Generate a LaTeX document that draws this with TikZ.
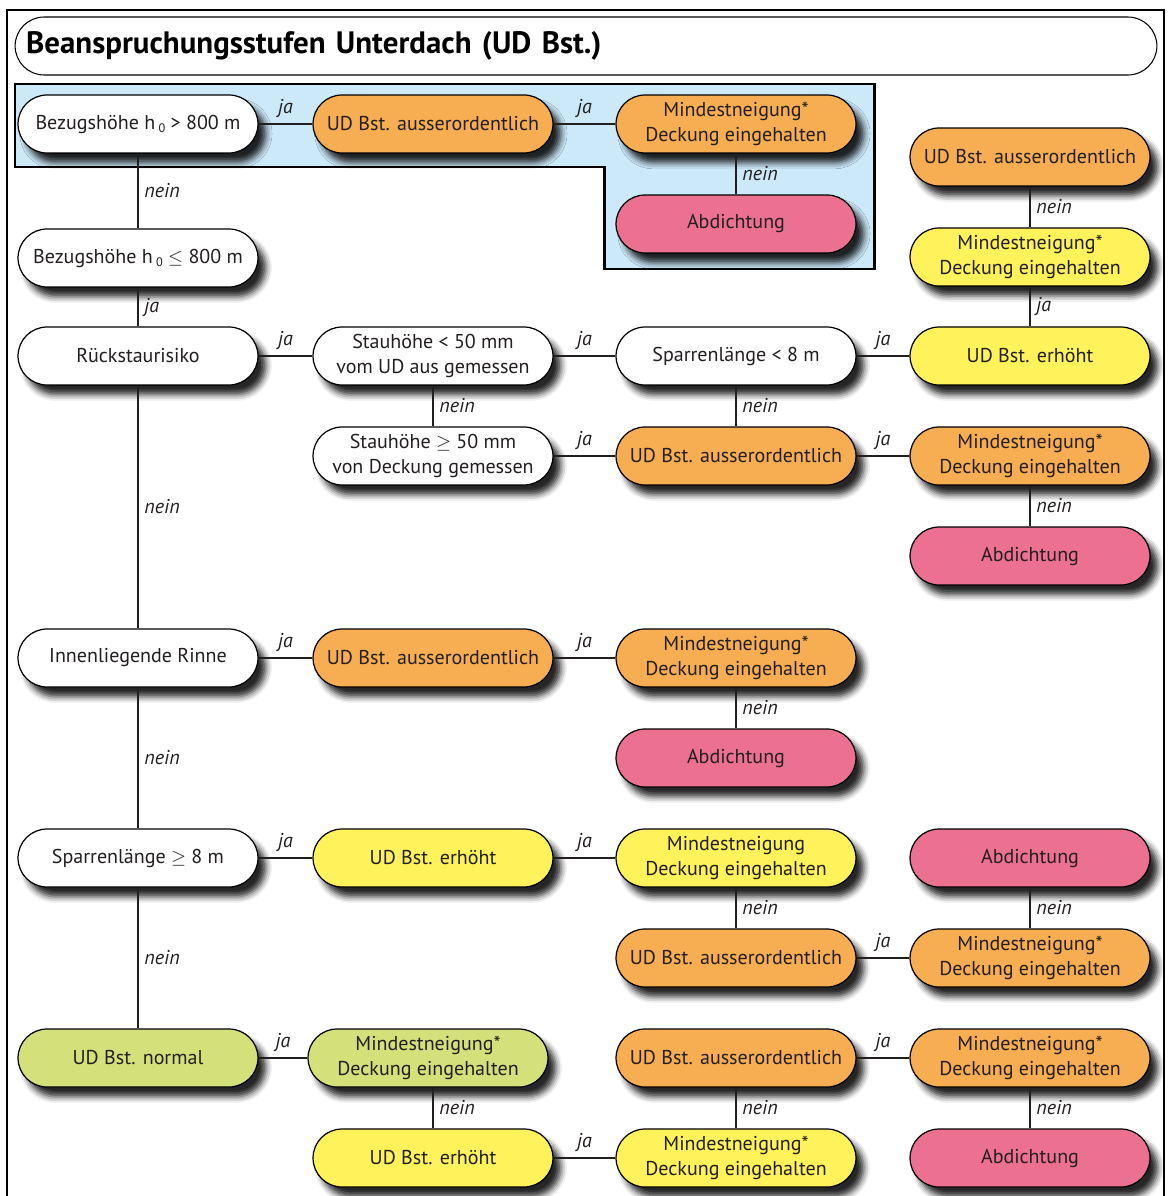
\documentclass[tikz,border=0pt]{standalone}
\usepackage{fontspec}
\setmainfont{PT Sans}
\usetikzlibrary{shadows.blur}

\definecolor{udorange}{RGB}{247,173,82}
\definecolor{udyellow}{RGB}{255,242,90}
\definecolor{udpink}{RGB}{236,112,144}
\definecolor{udgreen}{RGB}{212,224,122}
\definecolor{udblue}{RGB}{204,233,250}
\definecolor{udtext}{RGB}{35,31,32}

\newcommand{\hnull}{h\,\raisebox{-0.35ex}{\scriptsize 0}}

\begin{document}
\begin{tikzpicture}
  [x=0.02cm,y=-0.02cm,font=\fontsize{11.4}{14.6}\selectfont,text=udtext]

  \tikzstyle{stufe} = [draw, line width=0.7pt, rounded corners=0.58cm,
                       minimum width=4.8cm, minimum height=1.16cm,
                       inner sep=1pt, align=center,
                       blur shadow={shadow xshift=4.5pt, shadow yshift=-5.5pt,
                                    shadow blur radius=3.5pt, shadow opacity=85}]
  \tikzstyle{frage}  = [stufe, fill=white]
  \tikzstyle{ausser} = [stufe, fill=udorange]
  \tikzstyle{erhoht} = [stufe, fill=udyellow]
  \tikzstyle{dicht}  = [stufe, fill=udpink]
  \tikzstyle{normal} = [stufe, fill=udgreen]
  \tikzstyle{ja}     = [above, font=\fontsize{11.4}{13}\selectfont\itshape]
  \tikzstyle{nein}   = [right, font=\fontsize{11.4}{13}\selectfont\itshape]

  \useasboundingbox (0,0) rectangle (1167,1196);

  % frame
  \draw[line width=1.7pt] (7,1196) -- (7,10) -- (1165,10);
  \draw[line width=0.6pt] (1164,10) -- (1164,1196);

  \node[draw, line width=0.6pt, rounded corners=0.58cm, minimum width=22.84cm,
        minimum height=1.16cm, text width=22.4cm, align=left,
        font=\fontsize{17.6}{20}\selectfont\bfseries, text=black]
        (titel) at (586,46) {Beanspruchungsstufen Unterdach (UD Bst.)};

  % ueber 800 m
  \draw[line width=1.7pt, fill=udblue]
        (15,84) -- (874,84) -- (874,269) -- (604,269) -- (604,167) -- (15,167) -- cycle;

  \node[frage]  (bza) at (138,124)  {Bezugshöhe \hnull{} > 800 m};
  \node[ausser] (ua1) at (433,124)  {UD Bst. ausserordentlich};
  \node[ausser] (mn1) at (736,124)  {Mindestneigung*\\Deckung eingehalten};
  \node[dicht]  (ab1) at (736,224)  {Abdichtung};

  \node[frage]  (bzb) at (138,258)  {Bezugshöhe \hnull{} $\leq$ 800 m};
  \node[ausser] (ua0) at (1030,157) {UD Bst. ausserordentlich};
  \node[erhoht] (mn0) at (1030,257) {Mindestneigung*\\Deckung eingehalten};

  \node[frage]  (rs)  at (138,356)  {Rückstaurisiko};
  \node[frage]  (sk)  at (433,356)  {Stauhöhe < 50 mm\\vom UD aus gemessen};
  \node[frage]  (sk8) at (736,356)  {Sparrenlänge < 8 m};
  \node[erhoht] (ue1) at (1030,356) {UD Bst. erhöht};

  \node[frage]  (sgr) at (433,456)  {Stauhöhe $\geq$ 50 mm\\von Deckung gemessen};
  \node[ausser] (ua2) at (736,456)  {UD Bst. ausserordentlich};
  \node[ausser] (mn2) at (1030,456) {Mindestneigung*\\Deckung eingehalten};
  \node[dicht]  (ab2) at (1030,556) {Abdichtung};

  \node[frage]  (ir)  at (138,658)  {Innenliegende Rinne};
  \node[ausser] (ua3) at (433,658)  {UD Bst. ausserordentlich};
  \node[ausser] (mn3) at (736,658)  {Mindestneigung*\\Deckung eingehalten};
  \node[dicht]  (ab3) at (736,758)  {Abdichtung};

  \node[frage]  (sg)  at (138,858)  {Sparrenlänge $\geq$ 8 m};
  \node[erhoht] (ue2) at (433,858)  {UD Bst. erhöht};
  \node[erhoht] (mn4) at (736,858)  {Mindestneigung\\Deckung eingehalten};
  \node[dicht]  (ab4) at (1030,858) {Abdichtung};
  \node[ausser] (ua4) at (736,958)  {UD Bst. ausserordentlich};
  \node[ausser] (mn6) at (1030,958) {Mindestneigung*\\Deckung eingehalten};

  \node[normal] (un)  at (138,1058) {UD Bst. normal};
  \node[normal] (mn5) at (428,1058) {Mindestneigung*\\Deckung eingehalten};
  \node[ausser] (ua5) at (736,1058) {UD Bst. ausserordentlich};
  \node[ausser] (mn8) at (1030,1058) {Mindestneigung*\\Deckung eingehalten};
  \node[erhoht] (ue3) at (433,1158) {UD Bst. erhöht};
  \node[erhoht] (mn7) at (736,1158) {Mindestneigung*\\Deckung eingehalten};
  \node[dicht]  (ab5) at (1030,1158) {Abdichtung};

  \path[draw=udtext, line width=0.6pt]
        (bza) edge node[ja]   {ja}   (ua1)
        (ua1) edge node[ja]   {ja}   (mn1)
        (mn1) edge node[nein] {nein} (ab1)
        (bza) edge node[nein] {nein} (bzb)
        (bzb) edge node[nein] {ja}   (rs)
        (ua0) edge node[nein] {nein} (mn0)
        (mn0) edge node[nein] {ja}   (ue1)
        (rs)  edge node[ja]   {ja}   (sk)
        (sk)  edge node[ja]   {ja}   (sk8)
        (sk8) edge node[ja]   {ja}   (ue1)
        (sk)  edge node[nein] {nein} (sgr)
        (sgr) edge node[ja]   {ja}   (ua2)
        (sk8) edge node[nein] {nein} (ua2)
        (ua2) edge node[ja]   {ja}   (mn2)
        (mn2) edge node[nein] {nein} (ab2)
        (rs)  edge node[nein] {nein} (ir)
        (ir)  edge node[ja]   {ja}   (ua3)
        (ua3) edge node[ja]   {ja}   (mn3)
        (mn3) edge node[nein] {nein} (ab3)
        (ir)  edge node[nein] {nein} (sg)
        (sg)  edge node[ja]   {ja}   (ue2)
        (ue2) edge node[ja]   {ja}   (mn4)
        (mn4) edge node[nein] {nein} (ua4)
        (ua4) edge node[ja]   {ja}   (mn6)
        (ab4) edge node[nein] {nein} (mn6)
        (sg)  edge node[nein] {nein} (un)
        (un)  edge node[ja]   {ja}   (mn5)
        (mn5.south -| ue3) edge node[nein] {nein} (ue3)
        (ue3) edge node[ja]   {ja}   (mn7)
        (ua5) edge node[nein] {nein} (mn7)
        (ua5) edge node[ja]   {ja}   (mn8)
        (mn8) edge node[nein] {nein} (ab5);
\end{tikzpicture}
\end{document}
